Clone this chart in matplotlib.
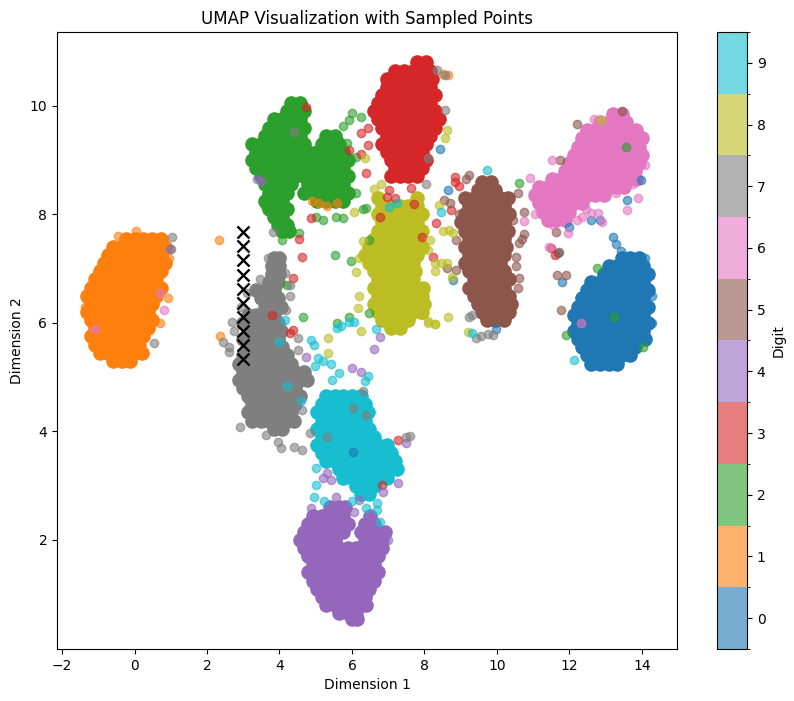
import numpy as np
import matplotlib
matplotlib.use('Agg')
import matplotlib.pyplot as plt
from matplotlib.colors import ListedColormap, BoundaryNorm
from matplotlib.cm import ScalarMappable

digits = list(range(10))

core_0 = {
    7.2: [13.44, 13.68, 13.92],
    7.05: [13.08, 13.32, 13.56, 13.8, 14.04],
    6.9: [12.96, 13.2, 13.44, 13.68, 13.92, 14.16],
    6.75: [12.6, 12.84, 13.08, 13.32, 13.56, 13.8, 14.04],
    6.6: [12.48, 12.72, 12.96, 13.2, 13.44, 13.68, 13.92, 14.16],
    6.45: [12.36, 12.6, 12.84, 13.08, 13.32, 13.56, 13.8, 14.04],
    6.3: [12.24, 12.48, 12.72, 12.96, 13.2, 13.44, 13.68, 13.92, 14.16],
    6.15: [12.12, 12.36, 12.6, 12.84, 13.08, 13.32, 13.56, 13.8, 14.04],
    6.0: [12.24, 12.48, 12.72, 12.96, 13.2, 13.44, 13.68, 13.92, 14.16],
    5.85: [12.12, 12.36, 12.6, 12.84, 13.08, 13.32, 13.56, 13.8, 14.04],
    5.7: [12.24, 12.48, 12.72, 12.96, 13.2, 13.44, 13.68, 13.92, 14.1],
    5.55: [12.36, 12.6, 12.84, 13.08, 13.32, 13.56, 13.8],
    5.4: [12.48, 12.72, 12.96, 13.2, 13.44, 13.68],
    5.25: [12.6, 12.84, 13.08, 13.32],
}
core_1 = {
    7.55: [-0.24, 0, 0.24, 0.48, 0.72],
    7.4: [-0.6, -0.36, -0.12, 0.12, 0.36, 0.6, 0.84],
    7.25: [-0.72, -0.48, -0.24, 0, 0.24, 0.48, 0.72],
    7.1: [-0.84, -0.6, -0.36, -0.12, 0.12, 0.36, 0.6, 0.84],
    6.95: [-0.96, -0.72, -0.48, -0.24, 0, 0.24, 0.48, 0.72],
    6.8: [-1.08, -0.84, -0.6, -0.36, -0.12, 0.12, 0.36, 0.6],
    6.65: [-1.2, -0.96, -0.72, -0.48, -0.24, 0, 0.24, 0.48, 0.72],
    6.5: [-1.32, -1.08, -0.84, -0.6, -0.36, -0.12, 0.12, 0.36, 0.6],
    6.35: [-1.2, -0.96, -0.72, -0.48, -0.24, 0, 0.24, 0.48],
    6.2: [-1.32, -1.08, -0.84, -0.6, -0.36, -0.12, 0.12, 0.36],
    6.05: [-1.2, -0.96, -0.72, -0.48, -0.24, 0, 0.24, 0.48],
    5.9: [-1.08, -0.84, -0.6, -0.36, -0.12, 0.12, 0.36],
    5.75: [-1.2, -0.96, -0.72, -0.48, -0.24, 0, 0.24],
    5.6: [-1.08, -0.84, -0.6, -0.36, -0.12, 0.12],
    5.45: [-0.96, -0.72, -0.48, -0.24, 0, 0.2],
    5.3: [-0.6, -0.36, -0.12],
}
core_2 = {
    10.05: [4.32, 4.56],
    9.9: [4.2, 4.44, 4.68],
    9.75: [3.84, 4.08, 4.32, 4.56],
    9.6: [3.72, 3.96, 4.2, 4.44, 4.68],
    9.45: [3.6, 3.84, 4.08, 4.32, 4.56, 5.28, 5.52],
    9.3: [3.24, 3.48, 3.72, 3.96, 4.2, 4.44, 4.68, 5.16, 5.4, 5.64],
    9.15: [3.36, 3.6, 3.84, 4.08, 4.32, 4.56, 4.8, 5.04, 5.28, 5.52, 5.76],
    9.0: [3.24, 3.48, 3.72, 3.96, 4.2, 4.44, 4.68, 4.92, 5.16, 5.4, 5.64, 5.88],
    8.85: [3.36, 3.6, 3.84, 4.08, 4.32, 4.56, 4.8, 5.04, 5.28, 5.52, 5.76],
    8.7: [3.48, 3.72, 3.96, 4.2, 4.44, 4.68, 4.92, 5.16, 5.4, 5.64, 5.88],
    8.55: [3.6, 3.84, 4.08, 4.32, 4.8, 5.04, 5.28, 5.52, 5.76],
    8.4: [3.72, 3.96, 4.2, 4.68, 4.92, 5.16, 5.4, 5.64, 5.88],
    8.25: [3.6, 3.84, 4.08, 5.04, 5.28, 5.52, 5.76],
    8.1: [3.72, 3.96, 4.2],
    7.95: [3.84, 4.08],
    7.8: [3.96, 4.2],
    7.7: [4.08, 4.25],
}
core_3 = {
    10.8: [7.8, 8.04],
    10.65: [7.2, 7.44, 7.68, 7.92, 8.16],
    10.5: [6.96, 7.08, 7.32, 7.56, 7.8, 8.04, 8.2],
    10.35: [6.96, 7.2, 7.44, 7.68, 7.92, 8.16],
    10.2: [6.84, 7.08, 7.32, 7.56, 7.8, 8.04, 8.28],
    10.05: [6.72, 6.96, 7.2, 7.44, 7.68, 7.92, 8.16],
    9.9: [6.6, 6.84, 7.08, 7.32, 7.56, 7.8, 8.04, 8.28],
    9.75: [6.72, 6.96, 7.2, 7.44, 7.68, 7.92, 8.16, 8.4],
    9.6: [6.84, 7.08, 7.32, 7.56, 7.8, 8.04, 8.28],
    9.45: [6.96, 7.2, 7.44, 7.68, 7.92, 8.16],
    9.3: [6.84, 7.08, 7.32, 7.56, 7.8, 8.04],
    9.15: [6.96, 7.2, 7.44, 7.68, 7.92],
    9.0: [7.08, 7.32, 7.56, 7.8, 8.04],
    8.85: [7.2, 7.44, 7.68, 7.92],
    8.7: [7.08, 7.32, 7.56, 7.8],
}
core_4 = {
    2.6: [5.4, 5.64, 5.8],
    2.45: [4.92, 5.16, 5.52, 5.76, 6.5],
    2.3: [4.8, 5.04, 5.28, 5.64, 5.88, 6.36, 6.6],
    2.15: [4.68, 4.92, 5.16, 5.4, 5.76, 6.24, 6.48, 6.72, 6.92],
    2.0: [4.56, 4.8, 5.04, 5.28, 5.52, 6.36, 6.6, 6.84],
    1.85: [4.68, 4.92, 5.16, 5.4, 5.64, 5.88, 6.12, 6.36, 6.6, 6.84],
    1.7: [4.8, 5.04, 5.28, 5.52, 5.76, 6, 6.24, 6.48, 6.72],
    1.55: [4.92, 5.16, 5.4, 5.64, 5.88, 6.12, 6.36, 6.6],
    1.4: [4.8, 5.04, 5.28, 5.52, 5.76, 6, 6.24, 6.48, 6.72],
    1.25: [4.92, 5.16, 5.4, 5.64, 5.88, 6.12, 6.36, 6.6],
    1.1: [5.04, 5.28, 5.52, 5.76, 6, 6.24, 6.48],
    0.95: [5.16, 5.4, 5.64, 5.88, 6.12, 6.36],
    0.8: [5.28, 5.52, 5.76, 6, 6.24, 6.4],
    0.65: [5.64, 5.88, 6.12],
    0.55: [6.0, 6.15],
}
core_5 = {
    8.6: [9.6, 9.84],
    8.45: [9.48, 9.72, 9.96],
    8.3: [9.12, 9.36, 9.6, 9.84, 10.08, 10.3],
    8.15: [9.24, 9.48, 9.72, 9.96, 10.2],
    8.0: [9.12, 9.36, 9.6, 9.84, 10.08, 10.32],
    7.85: [9.0, 9.24, 9.48, 9.72, 9.96, 10.2],
    7.7: [9.12, 9.36, 9.6, 9.84, 10.08, 10.3],
    7.55: [9.24, 9.48, 9.72, 9.96, 10.2],
    7.4: [9.12, 9.36, 9.6, 9.84, 10.08, 10.25],
    7.25: [9.24, 9.48, 9.72, 9.96, 10.2],
    7.1: [9.12, 9.36, 9.6, 9.84, 10.08],
    6.95: [9.24, 9.48, 9.72, 9.96, 10.2],
    6.8: [9.36, 9.6, 9.84, 10.08, 10.32],
    6.65: [9.24, 9.48, 9.72, 9.96, 10.2],
    6.5: [9.36, 9.6, 9.84, 10.08, 10.32],
    6.35: [9.48, 9.72, 9.96, 10.2, 10.4],
    6.2: [9.6, 9.84, 10.08, 10.32],
    6.05: [9.72, 9.96, 10.2],
}
core_6 = {
    9.85: [13.2, 13.44],
    9.7: [12.84, 13.08, 13.32, 13.56],
    9.55: [12.48, 12.72, 12.96, 13.2, 13.44, 13.68, 13.85],
    9.4: [12.36, 12.6, 12.84, 13.08, 13.32, 13.56, 13.8, 14.0],
    9.25: [12.24, 12.48, 12.72, 12.96, 13.2, 13.44, 13.68, 13.92],
    9.1: [12.12, 12.36, 12.6, 12.84, 13.08, 13.32, 13.56, 13.8, 14.0],
    8.95: [12.0, 12.24, 12.48, 12.72, 12.96, 13.2, 13.44, 13.68, 13.92],
    8.8: [11.88, 12.12, 12.36, 12.6, 12.84, 13.08, 13.32, 13.56, 13.8],
    8.65: [11.52, 11.76, 12, 12.24, 12.48, 12.72, 12.96, 13.2, 13.44, 13.68, 13.85],
    8.5: [11.16, 11.4, 11.64, 11.88, 12.12, 12.36, 12.6, 12.84, 13.08, 13.32, 13.5],
    8.35: [11.04, 11.28, 11.52, 11.76, 12, 12.24, 12.48, 12.72, 12.96],
    8.2: [11.16, 11.4, 11.64, 11.88, 12.12, 12.36],
    8.05: [11.28, 11.52, 11.76, 12],
    7.9: [11.4, 11.64, 11.88],
}
core_7 = {
    7.2: [3.84, 4.0],
    7.05: [3.8, 4.0],
    6.9: [3.8, 4.0],
    6.75: [3.72, 3.96],
    6.6: [3.36, 3.6, 3.84],
    6.45: [3.48, 3.72, 3.96],
    6.3: [3.6, 3.84, 4.05],
    6.15: [3.12, 3.36, 3.6, 3.84],
    6.0: [3.0, 3.24, 3.48, 3.72, 3.96],
    5.85: [3.12, 3.36, 3.6, 3.84, 4.05],
    5.7: [3.0, 3.24, 3.48, 3.72, 3.96],
    5.55: [3.12, 3.36, 3.6, 3.84, 4.08],
    5.4: [3.0, 3.24, 3.48, 3.72, 3.96, 4.2],
    5.25: [2.88, 3.12, 3.36, 3.6, 3.84, 4.08, 4.32],
    5.1: [3.0, 3.24, 3.48, 3.72, 3.96, 4.2, 4.44, 4.68],
    4.95: [2.88, 3.12, 3.36, 3.6, 3.84, 4.08, 4.32, 4.56, 4.75],
    4.8: [3.0, 3.24, 3.48, 3.72, 3.96, 4.2, 4.44],
    4.65: [3.12, 3.36, 3.6, 3.84, 4.08, 4.32, 4.56],
    4.5: [3.24, 3.48, 3.72, 3.96, 4.2, 4.44],
    4.35: [3.12, 3.36, 3.6, 3.84, 4.08, 4.32],
    4.2: [3.24, 3.48, 3.72, 3.96, 4.2, 4.4],
    4.05: [3.84, 4.08],
}
core_8 = {
    8.3: [6.72, 7.8],
    8.15: [6.84, 7.08, 7.32, 7.56, 7.8],
    8.0: [6.72, 6.96, 7.2, 7.44, 7.68, 7.92],
    7.85: [6.84, 7.08, 7.32, 7.56, 7.8],
    7.7: [6.72, 6.96, 7.2, 7.44, 7.68, 7.92],
    7.55: [6.6, 6.84, 7.08, 7.32, 7.56, 7.8],
    7.4: [6.48, 6.72, 6.96, 7.2, 7.44, 7.68, 7.92],
    7.25: [6.36, 6.6, 6.84, 7.08, 7.32, 7.56, 7.8],
    7.1: [6.48, 6.72, 6.96, 7.2, 7.44, 7.68],
    6.95: [6.6, 6.84, 7.08, 7.32, 7.56, 7.75],
    6.8: [6.72, 6.96, 7.2, 7.44, 7.68],
    6.65: [6.6, 6.84, 7.08, 7.32, 7.56, 7.8, 7.95],
    6.5: [6.72, 6.96, 7.2, 7.44, 7.68, 7.92],
    6.35: [6.6, 6.84, 7.08, 7.32, 7.56, 7.8, 8.0],
    6.2: [6.72, 6.96, 7.2, 7.44, 7.68, 7.92],
    6.05: [6.84, 7.08, 7.32, 7.56],
    5.9: [7.08, 7.32],
}
core_9 = {
    4.65: [5.28, 5.52, 5.76, 6, 6.24],
    4.5: [5.16, 5.4, 5.64, 5.88, 6.12, 6.36],
    4.35: [5.04, 5.28, 5.52, 5.76, 6, 6.24, 6.45],
    4.2: [5.16, 5.4, 5.64, 5.88, 6.12, 6.36],
    4.05: [5.04, 5.28, 5.52, 5.76, 6, 6.24, 6.48],
    3.9: [5.16, 5.4, 5.64, 5.88, 6.12, 6.36, 6.6],
    3.75: [5.04, 5.28, 5.52, 5.76, 6, 6.24, 6.48, 6.72, 6.96],
    3.6: [5.16, 5.4, 5.64, 5.88, 6.12, 6.36, 6.6, 6.84, 7.08],
    3.45: [5.28, 5.52, 5.76, 6, 6.24, 6.48, 6.72, 6.96, 7.2],
    3.3: [5.64, 5.88, 6.12, 6.36, 6.6, 6.84, 7.08, 7.25],
    3.15: [5.76, 6, 6.24, 6.48, 6.72, 6.96],
    3.0: [6.12, 6.36, 6.6],
    2.85: [6.24, 6.48],
}

# loose points around and on top of the clusters
stray_x_0 = [13.2, 13.3, 13.42, 12.6, 13.6, 12.85, 12.0, 11.68, 11.8, 13.98, 8.44, 8.66, 8.78, 9.98, 6.04, 14.1, 14.28, 14.28]
stray_y_0 = [7.59, 7.45, 7.32, 7.9, 8.27, 7.9, 7.77, 7.28, 6.76, 8.64, 9.2, 8.45, 6.79, 5.89, 3.62, 7.2, 6.5, 6.0]
stray_x_1 = [2.33, 2.35, 8.65, 8.5, 4.9, 5.1, 5.3, 5.6, 0.91, 0.69, -0.45, 0.05, 0.95, -1.38]
stray_y_1 = [7.52, 5.75, 10.56, 10.58, 8.25, 8.2, 8.15, 8.2, 6.46, 6.0, 7.6, 7.7, 7.2, 6.3]
stray_x_2 = [6.25, 6.0, 5.93, 5.74, 6.12, 6.4, 6.3, 5.52, 5.96, 5.19, 5.57, 5.74, 5.0, 4.55, 4.08, 4.22, 4.66, 5.6, 5.93, 6.48, 6.48, 3.59, 3.31, 6.12, 5.85, 11.92, 14.04, 13.24, 12.77, 13.57, 10.62]
stray_y_2 = [9.8, 9.87, 9.74, 9.62, 8.4, 8.12, 8.1, 7.25, 7.14, 7.9, 7.96, 7.94, 7.95, 7.66, 7.53, 6.7, 6.11, 6.0, 6.11, 6.18, 7.53, 8.16, 8.97, 9.06, 9.32, 5.78, 5.56, 6.11, 7.01, 9.24, 8.58]
stray_x_3 = [4.74, 6.4, 5.93, 6.26, 6.43, 6.26, 6.43, 4.88, 4.55, 4.61, 4.36, 3.78, 4.36, 4.3, 8.83, 8.83, 8.95, 8.74, 8.33, 7.72, 7.94, 8.25, 6.76, 6.98, 7.2, 7.03, 7.64, 11.5, 11.6, 6.84, 7.26]
stray_y_3 = [9.98, 8.77, 9.19, 9.5, 9.6, 9.12, 9.27, 7.94, 7.55, 7.22, 6.83, 6.15, 5.87, 5.82, 8.69, 8.6, 8.53, 8.08, 7.84, 8.19, 7.59, 7.22, 7.96, 8.32, 8.3, 8.45, 8.49, 7.38, 7.25, 3.01, 3.84]
stray_x_4 = [6.76, 6.62, 6.01, 6.25, 4.74, 5.19, 5.3, 5.43, 5.57, 6.2, 7.5, 7.26, 6.85, 3.37, 3.48, 0.99, 4.88, 6.07, 7.0]
stray_y_4 = [5.74, 5.52, 5.17, 5.1, 5.37, 3.14, 3.24, 3.1, 2.8, 2.74, 3.78, 3.05, 2.88, 8.65, 8.62, 7.36, 2.59, 2.52, 2.0]
stray_x_5 = [10.76, 10.62, 10.68, 10.54, 10.54, 10.62, 10.57, 10.76, 10.57, 8.55, 8.7, 9.24, 9.15, 8.88, 8.63, 11.64, 11.67, 11.9, 11.78, 12.22, 13.46, 11.75, 11.7, 8.88, 10.45, 8.95]
stray_y_5 = [7.64, 7.47, 7.55, 7.22, 7.05, 6.83, 6.65, 8.05, 8.39, 8.27, 8.2, 8.73, 8.65, 6.98, 7.01, 7.68, 6.88, 6.88, 6.24, 9.67, 9.9, 9.0, 7.3, 7.53, 7.9, 8.0]
stray_x_6 = [11.53, 12.69, 13.88, 13.75, 13.6, 13.3, 12.9, 12.8, 12.6, 12.2, 11.97, 10.76, 10.9, 11.45, 11.55, 12.33, 0.8, 0.69, -1.1, 14.1, 11.05, 12.45, 12.35]
stray_y_6 = [9.0, 9.76, 8.3, 8.55, 8.08, 8.4, 7.86, 8.03, 8.03, 7.9, 7.66, 7.88, 8.67, 7.4, 7.8, 6.0, 6.24, 6.55, 5.89, 8.9, 8.0, 8.1, 7.95]
stray_x_7 = [1.02, 1.0, 0.55, 3.81, 4.14, 3.67, 3.45, 2.7, 2.43, 2.6, 4.19, 4.5, 2.62, 4.5, 2.9, 3.64, 4.05, 3.95, 4.41, 4.63, 4.83, 4.63, 7.5, 7.6, 5.3, 6.04, 6.4, 6.3, 8.58, 8.36, 8.58, 8.03, 8.11, 9.32, 9.22, 9.43, 9.75, 9.9, 9.55, 4.41, 2.75, 2.95, 3.1, 4.3, 4.3]
stray_y_7 = [7.59, 7.36, 5.63, 7.68, 6.92, 7.2, 6.8, 6.02, 5.65, 5.55, 6.24, 5.72, 5.46, 5.5, 4.08, 3.94, 3.7, 3.8, 3.71, 3.66, 3.97, 4.4, 3.9, 3.92, 3.9, 4.43, 4.3, 4.75, 9.93, 10.66, 10.57, 8.56, 9.04, 6.15, 6.1, 5.73, 5.8, 5.78, 5.75, 9.52, 5.85, 6.3, 6.55, 6.5, 6.7]
stray_x_8 = [6.1, 6.2, 6.18, 6.26, 5.35, 5.35, 8.28, 8.1, 7.9, 8.66, 8.3, 8.1, 8.63, 8.58, 8.69, 8.5, 8.8, 8.41, 8.14, 8.1, 8.28, 8.45, 8.63, 8.28, 8.75, 6.62, 6.8, 9.2, 12.88, 6.07, 6.37, 6.3, 6.2]
stray_y_8 = [6.94, 6.5, 6.27, 5.85, 5.72, 5.45, 5.98, 6.03, 6.15, 6.11, 5.98, 6.0, 9.56, 9.4, 7.71, 7.7, 7.65, 8.18, 7.53, 7.35, 7.1, 7.1, 7.1, 6.95, 6.85, 8.47, 8.55, 5.83, 9.74, 8.05, 9.04, 7.5, 7.2]
stray_x_9 = [4.88, 4.94, 5.6, 5.93, 6.05, 6.65, 4.0, 4.14, 4.22, 5.43, 5.2, 5.05, 4.97, 5.63, 6.43, 6.35, 4.6, 5.0, 5.02, 4.94, 5.24, 6.01, 6.4, 6.68, 6.68, 6.76, 9.74, 9.3, 7.03, 7.23, 12.14, 8.47, 5.7, 5.45]
stray_y_9 = [5.69, 5.59, 5.9, 6.02, 6.02, 5.89, 5.65, 6.05, 4.83, 5.24, 5.3, 5.35, 5.2, 5.08, 5.02, 4.92, 4.56, 3.33, 3.01, 2.8, 2.72, 2.72, 2.59, 2.68, 2.55, 2.33, 8.82, 5.82, 8.14, 8.2, 5.32, 8.05, 5.95, 4.95]

sampled_x = [3, 3, 3, 3, 3, 3, 3, 3, 3, 3]
sampled_y = [7.67, 7.41, 7.15, 6.89, 6.63, 6.37, 6.11, 5.85, 5.59, 5.33]

cores = [core_0, core_1, core_2, core_3, core_4, core_5, core_6, core_7, core_8, core_9]
strays_x = [stray_x_0, stray_x_1, stray_x_2, stray_x_3, stray_x_4, stray_x_5, stray_x_6, stray_x_7, stray_x_8, stray_x_9]
strays_y = [stray_y_0, stray_y_1, stray_y_2, stray_y_3, stray_y_4, stray_y_5, stray_y_6, stray_y_7, stray_y_8, stray_y_9]

cmap = ListedColormap(plt.get_cmap('tab10').colors)
norm = BoundaryNorm(np.arange(11) - 0.5, 10)

fig = plt.figure(figsize=(7.94, 7.01), dpi=100)
ax = fig.add_axes([57 / 794, 1 - 649 / 701, 620 / 794, 617 / 701])
cax = fig.add_axes([717 / 794, 1 - 649 / 701, 30 / 794, 617 / 701])

for d in digits:
    xs, ys = [], []
    for y, row in cores[d].items():
        xs += row
        ys += [y] * len(row)
    ax.scatter(xs, ys, color=cmap(d), s=90)  # bigger so the mass closes up
for d in digits:
    ax.scatter(strays_x[d], strays_y[d], color=cmap(d), alpha=0.6)

ax.scatter(sampled_x, sampled_y, c='black', marker='x', s=75, linewidths=1.7, zorder=5)

ax.set_xlim(-2.14, 14.97)
ax.set_ylim(-0.01, 11.36)
ax.set_xticks([-2, 0, 2, 4, 6, 8, 10, 12, 14])
ax.set_yticks([2, 4, 6, 8, 10])
ax.set_title('UMAP Visualization with Sampled Points')
ax.set_xlabel('Dimension 1')
ax.set_ylabel('Dimension 2')

sm = ScalarMappable(norm=norm, cmap=cmap)
cbar = fig.colorbar(sm, cax=cax, ticks=digits, alpha=0.6)
cbar.set_label('Digit')

plt.savefig('out.png', dpi=100)
